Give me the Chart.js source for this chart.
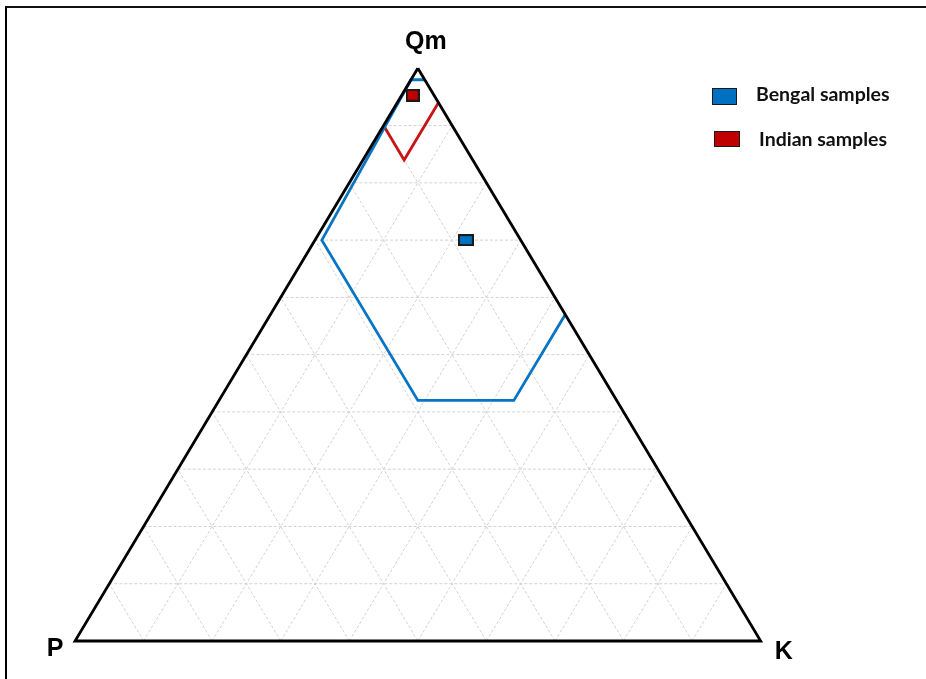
<!DOCTYPE html>
<html>
<head>
<meta charset="utf-8">
<script src="https://cdn.jsdelivr.net/npm/chart.js@4"></script>
<style>
  html, body { margin: 0; padding: 0; background: #fff; }
  #wrap { position: relative; width: 926px; height: 679px; overflow: hidden; }
  #frame { position: absolute; left: 5px; top: 6px; right: -10px; bottom: -10px;
           border-left: 2px solid #000; border-top: 2px solid #111; }
  canvas { position: absolute; left: 0; top: 0; }
  .legend { position: absolute; font-family: Lato, "Open Sans", sans-serif; font-weight: bold;
            font-size: 19.5px; color: #111; white-space: nowrap; }
  .swatch { position: absolute; box-sizing: border-box; border: 1.5px solid #1a1a1a; }
</style>
</head>
<body>
<div id="wrap">
  <div id="frame"></div>
  <canvas id="c" width="926" height="679"></canvas>
  <div class="swatch" style="left:712px;top:88px;width:25px;height:17px;background:#0070C0"></div>
  <div class="legend" style="left:756px;top:81.5px">Bengal samples</div>
  <div class="swatch" style="left:714px;top:131px;width:26px;height:16px;background:#C00000"></div>
  <div class="legend" style="left:759px;top:126.8px">Indian samples</div>
</div>
<script>
// Ternary QmPK diagram: every point is given as (Qm, K); P = 1 - Qm - K.
const vertexLabels = ["Qm", "P", "K"];
const gridSteps = [0.1, 0.2, 0.3, 0.4, 0.5, 0.6, 0.7, 0.8, 0.9];

// Bengal provenance field (open along the Qm-K side)
const bengalFieldQm = [0.98, 0.98, 0.70, 0.42, 0.42, 0.57];
const bengalFieldK  = [0.02, 0.00, 0.01, 0.29, 0.43, 0.43];

// Indian provenance field
const indianFieldQm = [0.90, 0.84, 0.94];
const indianFieldK  = [0.00, 0.06, 0.06];

// Sample means
const bengalSampleQm = [0.70];
const bengalSampleK  = [0.22];
const indianSampleQm = [0.953];
const indianSampleK  = [0.016];

// Triangle outline: Qm apex, P corner, K corner, back to apex
const outlineQm = [1, 0, 0, 1];
const outlineK  = [0, 0, 1, 0];

function toXY(qm, k) { return { x: k + qm / 2, y: qm }; }
function series(qmArr, kArr) { return qmArr.map((q, i) => toXY(q, kArr[i])); }

function swatchImage(w, h, fill) {
  const cv = document.createElement('canvas');
  cv.width = w; cv.height = h;
  const g = cv.getContext('2d');
  g.fillStyle = '#1a1a1a';
  g.fillRect(0, 0, w, h);
  g.fillStyle = fill;
  g.fillRect(2, 2, w - 4, h - 4);
  return cv;
}

const datasets = [];

// Dashed grid at every 10 % for all three components
gridSteps.forEach(t => {
  const lines = [
    [toXY(t, 0), toXY(t, 1 - t)],          // constant Qm
    [toXY(0, t), toXY(1 - t, t)],          // constant K
    [toXY(0, 1 - t), toXY(1 - t, 0)]       // constant P
  ];
  lines.forEach(pts => datasets.push({
    data: pts, showLine: true, borderColor: '#d2d2d2', borderWidth: 1,
    borderDash: [3, 2], pointRadius: 0, order: 4, clip: false
  }));
});

datasets.push({
  label: 'Bengal field', data: series(bengalFieldQm, bengalFieldK), showLine: true,
  borderColor: '#0874C4', borderWidth: 2.8, pointRadius: 0, order: 3, clip: false,
  borderJoinStyle: 'miter'
});
datasets.push({
  label: 'Indian field', data: series(indianFieldQm, indianFieldK), showLine: true,
  borderColor: '#C81414', borderWidth: 2.8, pointRadius: 0, order: 3, clip: false,
  borderJoinStyle: 'miter'
});
datasets.push({
  data: series(outlineQm, outlineK), showLine: true, borderColor: '#000',
  borderWidth: 2.8, pointRadius: 0, order: 2, clip: false, borderJoinStyle: 'miter'
});
datasets.push({
  label: 'Bengal samples', data: series(bengalSampleQm, bengalSampleK),
  pointStyle: swatchImage(16, 12, '#0070C0'), order: 1, clip: false
});
datasets.push({
  label: 'Indian samples', data: series(indianSampleQm, indianSampleK),
  pointStyle: swatchImage(14, 13, '#C00000'), order: 1, clip: false
});

// Vertex names placed next to the triangle corners
const vertexLabelPlugin = {
  id: 'vertexLabels',
  afterDatasetsDraw(chart) {
    const { ctx, scales: { x, y } } = chart;
    const corners = [toXY(1, 0), toXY(0, 0), toXY(0, 1)];
    const offsets = [[8, -19], [-20, 15], [23, 18]];
    ctx.save();
    ctx.font = 'bold 25px "Liberation Sans", Arial, sans-serif';
    ctx.fillStyle = '#000';
    ctx.textAlign = 'center';
    ctx.textBaseline = 'alphabetic';
    corners.forEach((c, i) => {
      ctx.fillText(vertexLabels[i], x.getPixelForValue(c.x) + offsets[i][0],
                   y.getPixelForValue(c.y) + offsets[i][1]);
    });
    ctx.restore();
  }
};

new Chart(document.getElementById('c'), {
  type: 'scatter',
  data: { datasets },
  options: {
    responsive: false,
    animation: false,
    layout: { padding: { left: 75, right: 165.3, top: 68.3, bottom: 38 } },
    scales: {
      x: { type: 'linear', min: 0, max: 1, display: false },
      y: { type: 'linear', min: 0, max: 1, display: false }
    },
    plugins: { legend: { display: false }, tooltip: { enabled: false } }
  },
  plugins: [vertexLabelPlugin]
});
</script>
</body>
</html>
